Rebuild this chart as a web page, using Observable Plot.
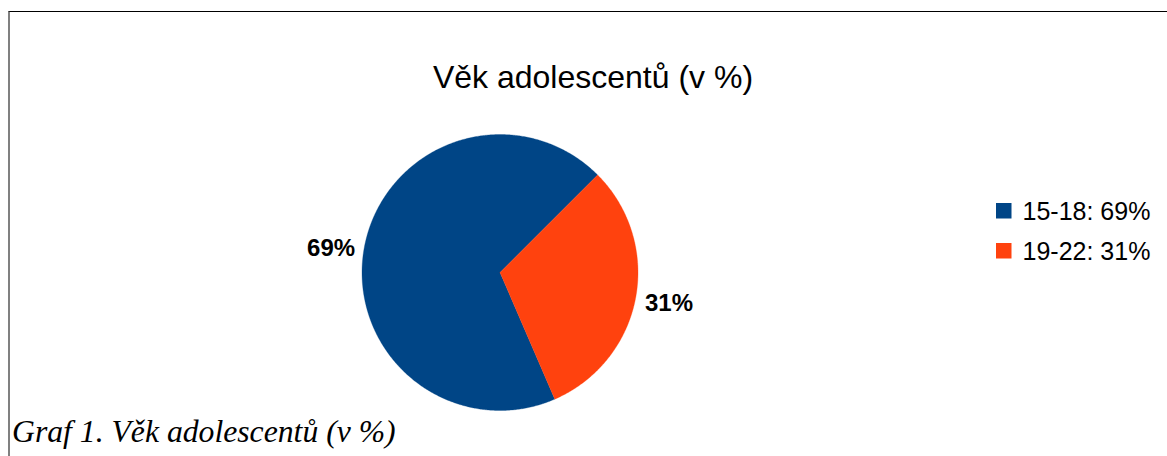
<!DOCTYPE html>
<html>
<head>
<meta charset="utf-8">
<script src="https://cdn.jsdelivr.net/npm/d3@7"></script>
<script src="https://cdn.jsdelivr.net/npm/@observablehq/plot@0.6"></script>
<style>
  html, body { margin: 0; padding: 0; background: #fff; overflow: hidden; width: 1167px; height: 456px; }
  #frame { position: absolute; left: 8px; top: 11px; width: 1300px; height: 600px;
           border-top: 1px solid #000; border-left: 2px solid #808080; z-index: 5; pointer-events: none; }
  #chart { position: absolute; left: 0; top: 0; width: 1167px; height: 456px; }
  #chart figure { margin: 0; position: relative; width: 1167px; height: 456px; }
  #chart figure h2 { position: absolute; left: 19px; width: 1148px; top: 61px; margin: 0;
       font: normal 32px/32px "Liberation Sans", Arial, sans-serif; text-align: center; color: #000; }
  #chart figure figcaption { position: absolute; left: 12px; top: 416px; margin: 0;
       font: italic 31.7px/32px "Liberation Serif", "Times New Roman", serif; color: #000; white-space: nowrap; }
  #chart figure svg { position: absolute; left: 0; top: 0; }
</style>
</head>
<body>
<div id="frame"></div>
<div id="chart"></div>
<script>
const categories = ["15-18", "19-22"];
const values = [69, 31];
const colors = ["#004586", "#ff420e"];
const legendLabels = ["15-18: 69%", "19-22: 31%"];
const sliceLabels = ["69%", "31%"];
const titleText = "Věk adolescentů (v %)";
const captionText = "Graf 1. Věk adolescentů (v %)";

// layout
const W = 1167, H = 456;
const cx = 499.5, cy = 272, R = 138;
const startAngle = 45;      // degrees clockwise from 12 o'clock
const labelDist = 172;

const total = d3.sum(values);
const slices = [];
const labels = [];
let a = startAngle;
values.forEach((v, i) => {
  const span = v / total * 360;
  const a0 = a, a1 = a - span; // counterclockwise
  const pts = [{cat: categories[i], x: cx, y: cy}];
  const n = Math.max(2, Math.ceil(span * 2));
  for (let k = 0; k <= n; k++) {
    const t = (a0 + (a1 - a0) * k / n) * Math.PI / 180;
    pts.push({cat: categories[i], x: cx + R * Math.sin(t), y: cy - R * Math.cos(t)});
  }
  pts.push({cat: categories[i], x: cx, y: cy});
  slices.push(...pts);
  const m = ((a0 + a1) / 2) * Math.PI / 180;
  labels.push({text: sliceLabels[i], x: cx + labelDist * Math.sin(m), y: cy - 0.85 * labelDist * Math.cos(m)});
  a = a1;
});

const legend = categories.map((c, i) => ({cat: c, label: legendLabels[i], row: i}));
const legX = 996, legY = 203, legStep = 40, sw = 15.5;

const chart = Plot.plot({
  width: W, height: H,
  margin: 0,
  title: titleText,
  caption: captionText,
  x: {domain: [0, W], range: [0, W], axis: null},
  y: {domain: [0, H], range: [0, H], axis: null},
  color: {domain: categories, range: colors},
  style: {background: "transparent", overflow: "visible"},
  marks: [
    Plot.line(slices, {x: "x", y: "y", z: "cat", fill: "cat", stroke: "cat", strokeWidth: 0.3, curve: "linear"}),
    Plot.text(labels, {x: "x", y: "y", text: "text", textAnchor: "middle", lineAnchor: "middle", dy: 3,
      fontSize: 24, fontWeight: "bold", fontFamily: "Liberation Sans, Arial, sans-serif", fill: "#000"}),
    Plot.rect(legend, {x1: () => legX, x2: () => legX + sw, y1: d => legY + d.row * legStep, y2: d => legY + d.row * legStep + sw, fill: "cat"}),
    Plot.text(legend, {x: () => legX + 26, y: d => legY + d.row * legStep + 8.5, text: "label", textAnchor: "start", lineAnchor: "middle",
      fontSize: 25, fontFamily: "Liberation Sans, Arial, sans-serif", fill: "#000"})
  ]
});
document.getElementById("chart").appendChild(chart);
</script>
</body>
</html>
